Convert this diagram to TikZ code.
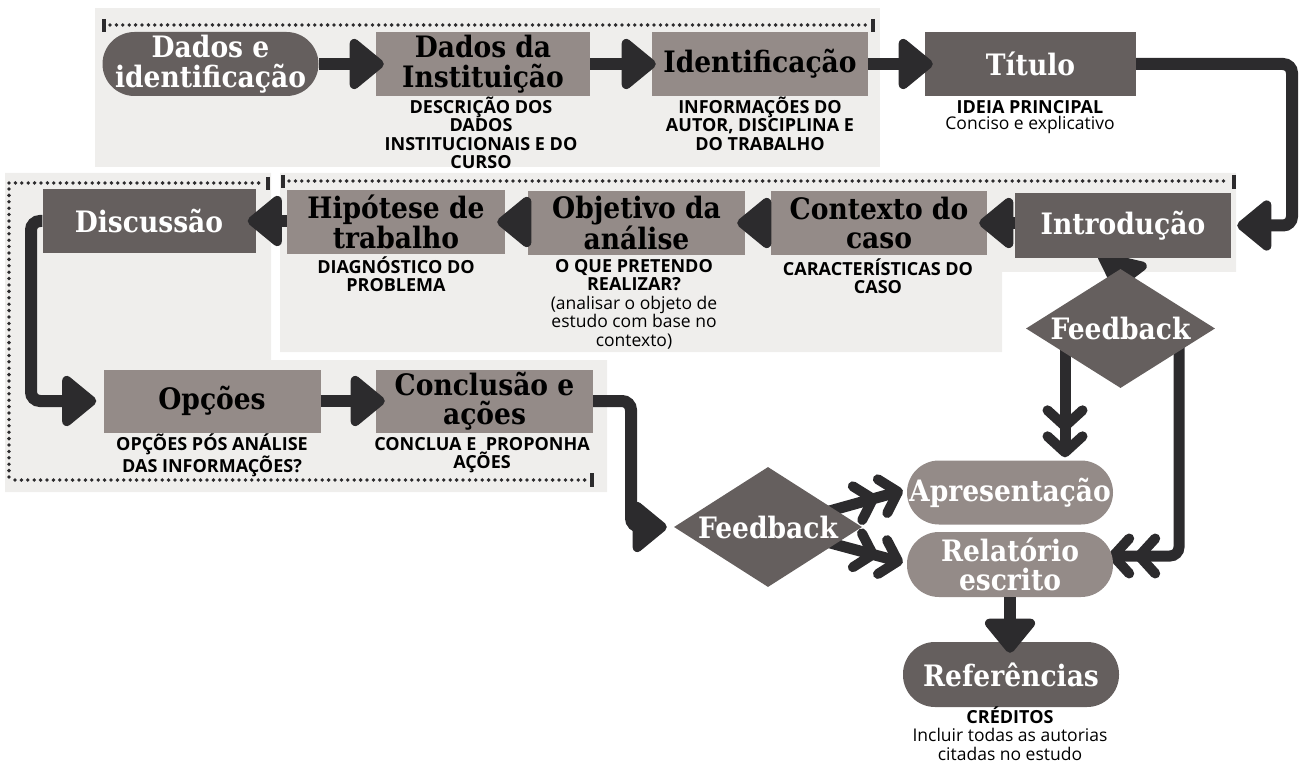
\documentclass[tikz,border=0pt]{standalone}
\usepackage{fontspec}
\usetikzlibrary{arrows.meta,shapes.geometric,calc}
\newfontfamily\ttlfont{DejaVu Serif Condensed}
\newfontfamily\sansf{Open Sans}
\definecolor{darkbox}{RGB}{101,95,94}
\definecolor{lightbox}{RGB}{148,139,136}
\definecolor{ink}{RGB}{44,43,45}
\definecolor{panel}{RGB}{239,238,236}
\newcommand\ttlf{\ttlfont\bfseries\fontsize{29.5}{29.5}\selectfont}
\newcommand\sbold{\sansf\bfseries\fontsize{18}{18.5}\selectfont}
\newcommand\sreg{\sansf\mdseries\fontsize{17.5}{18.5}\selectfont}
\newcommand\fstrut{\rule{0pt}{17pt}}
\pgfdeclarelayer{bg}
\pgfdeclarelayer{under}
\pgfdeclarelayer{fg}
\pgfsetlayers{bg,under,main,fg}
\tikzset{
 box/.style={rectangle, minimum width=215pt, minimum height=64pt, inner sep=0pt, align=center, font=\ttlf},
 darkb/.style={box, fill=darkbox, text=white},
 lightb/.style={box, fill=lightbox, text=black},
 pillb/.style={rounded corners=32pt},
 fbnode/.style={diamond, aspect=1.6, fill=darkbox, text=white, inner sep=0pt, font=\ttlf, minimum width=189pt, minimum height=119pt},
 subt/.style={anchor=north, align=center, inner sep=0pt, font=\sbold, text=black},
 arr/.style={draw=ink, line width=12pt, rounded corners=9pt, -{Triangle[round, length=37pt, width=58pt]}},
 darr/.style={draw=ink, line width=11pt, rounded corners=9pt, -{Straight Barb[round, length=16pt, width=35pt, line width=10pt] Straight Barb[round, length=16pt, width=35pt, line width=10pt]}},
 dots/.style={draw=ink, line width=3.8pt, line cap=round, dash pattern=on 0pt off 6.4pt},
 tickm/.style={draw=ink, line width=3.2pt},
}
\begin{document}
\begin{tikzpicture}[x=1pt,y=-1pt]
\useasboundingbox (0,0) rectangle (1299,762);

% boxes
\node[darkb, pillb, minimum width=216pt] (dadosid) at (210.5,64) {Dados e\\identificação};
\node[lightb, minimum width=214pt] (inst) at (483,64) {Dados da\\Instituição};
\node[lightb, minimum width=216pt] (ident) at (760,64) {Identificação};
\node[darkb, minimum width=211pt] (titulo) at (1030.5,64) {Título};
\node[darkb, minimum width=216pt, minimum height=65pt] (intro) at (1123,225.5) {Introdução};
\node[lightb, minimum width=216pt] (contexto) at (879,223) {Contexto do\\caso};
\node[lightb, minimum width=217pt] (objetivo) at (636.5,223) {Objetivo da\\análise};
\node[lightb, minimum width=218pt] (hipotese) at (396,222) {Hipótese de\\trabalho};
\node[darkb, minimum width=213pt] (discussao) at (149,221) {Discussão};
\node[lightb, minimum width=217pt, minimum height=63pt] (opcoes) at (212,401) {Opções};
\node[lightb, minimum width=217pt, minimum height=63pt] (conclusao) at (484.5,401) {Conclusão e\\ações};
\node[fbnode] (fbA) at (1120.5,328.5) {Feedback};
\node[fbnode, minimum width=188pt, minimum height=120pt] (fbB) at (768,527) {Feedback};
\node[box, pillb, fill=lightbox, text=white, minimum width=206pt] (apres) at (1010,492.5) {Apresentação};
\node[box, pillb, fill=lightbox, text=white, minimum width=206pt, minimum height=65pt] (relat) at (1010,564.5) {Relatório\\escrito};
\node[darkb, pillb, minimum width=216pt, minimum height=65pt] (refer) at (1011,674.5) {Referências};

% subtitles
\node[subt] (sInst) at (481,96) {\fstrut DESCRIÇÃO DOS\\DADOS\\INSTITUCIONAIS E DO\\CURSO};
\node[subt] (sIdent) at (760,96) {\fstrut INFORMAÇÕES DO\\AUTOR, DISCIPLINA E\\DO TRABALHO};
\node[subt] (sTit) at (1030,96) {\fstrut IDEIA PRINCIPAL\\[-2.5pt]{\sreg Conciso e explicativo}};
\node[subt] (sCtx) at (878,258) {\fstrut CARACTERÍSTICAS DO\\CASO};
\node[subt] (sObj) at (634,255) {\fstrut O QUE PRETENDO\\REALIZAR?\\{\sreg (analisar o objeto de}\\{\sreg estudo com base no}\\{\sreg contexto)}};
\node[subt] (sHip) at (396,256) {\fstrut DIAGNÓSTICO DO\\PROBLEMA};
\node[subt] (sOp) at (212,433) {\fstrut OPÇÕES PÓS ANÁLISE\\DAS INFORMAÇÕES?};
\node[subt] (sCon) at (482,433) {\fstrut CONCLUA E\ \ PROPONHA\\AÇÕES};
\node[subt] (sRef) at (1010,706) {\fstrut CRÉDITOS\\{\sreg Incluir todas as autorias}\\{\sreg citadas no estudo}};

\coordinate (cT) at (1292,0);
\coordinate (cL) at (31,0);
\coordinate (cC) at (631,0);
\coordinate (lA) at (1065,0);
\coordinate (rB) at (1179,556);

\begin{pgfonlayer}{bg}
\fill[panel] (95,8) rectangle (880,167);
\fill[panel] (280,173) -- (1236,173) -- (1236,272) -- (1002,272) -- (1002,352) -- (280,352) -- cycle;
\fill[panel] (5,173) -- (271,173) -- (271,360) -- (607,360) -- (607,492) -- (5,492) -- cycle;
\draw[tickm] (104,19) -- (104,32);
\draw[dots] (110,25) -- (867,25);
\draw[tickm] (873,19) -- (873,32);
\draw[tickm] (283,175) -- (283,188);
\draw[dots] (289,181) -- (1228,181);
\draw[tickm] (1234,175) -- (1234,189);
\draw[dots] (9,183) -- (262,183);
\draw[tickm] (268,177) -- (268,190);
\draw[dots] (9,189) -- (9,480);
\draw[dots] (15,480) -- (585,480);
\draw[tickm] (592,473) -- (592,487);
\end{pgfonlayer}

\begin{pgfonlayer}{under}
\draw[arr, shorten >=-22pt] (intro.south) -- (fbA.north);
\draw[darr, shorten >=3pt] (lA |- fbA.center) -- (lA |- apres.north);
\draw[darr, shorten >=-5pt] (rB |- fbA.center) -- (rB) -- (relat.east |- rB);
\draw[darr] ($(fbB.center)+(40,-10)$) -- ($(apres.west)+(-4,-2)$);
\draw[darr] ($(fbB.center)+(40,10)$) -- ($(relat.west)+(-4,-2)$);
\end{pgfonlayer}

\begin{pgfonlayer}{fg}
\draw[arr, shorten >=-8pt] (dadosid.east) -- (inst.west);
\draw[arr, shorten >=-4pt] (inst.east) -- (ident.west);
\draw[arr, shorten >=-8pt] (ident.east) -- (titulo.west);
\draw[arr, shorten >=6pt] (titulo.east) -- (titulo.east -| cT) -- (cT |- intro.east) -- (intro.east);
\draw[arr, shorten >=-8pt] (intro.west |- contexto) -- (contexto.east);
\draw[arr, shorten >=-8pt] (contexto.west |- objetivo) -- (objetivo.east);
\draw[arr, shorten >=-8pt] (objetivo.west |- hipotese) -- (hipotese.east);
\draw[arr, shorten >=-8pt] (hipotese.west |- discussao) -- (discussao.east);
\draw[arr, shorten >=7pt] (discussao.west) -- (discussao.west -| cL) -- (cL |- opcoes.west) -- (opcoes.west);
\draw[arr, shorten >=-9pt] (opcoes.east) -- (conclusao.west);
\draw[arr, shorten >=7pt] (conclusao.east) -- (conclusao.east -| cC) -- (cC |- fbB.west) -- (fbB.west);
\draw[arr, shorten >=-11pt] (relat.south) -- (relat.south |- refer.north);
\end{pgfonlayer}
\end{tikzpicture}
\end{document}
